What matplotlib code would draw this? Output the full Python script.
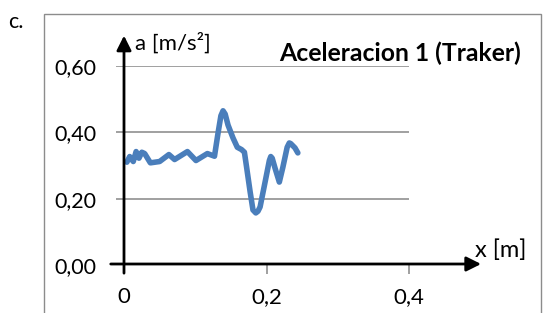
import matplotlib
matplotlib.use("Agg")
import matplotlib.pyplot as plt
from matplotlib.patches import Rectangle

plt.rcParams['font.family'] = ['Lato', 'DejaVu Sans']

# acceleration
x_m = [0.004, 0.008, 0.013, 0.017, 0.021, 0.025, 0.029, 0.037, 0.050, 0.063,
       0.071, 0.089, 0.101, 0.117, 0.127, 0.132, 0.136, 0.139, 0.142, 0.146,
       0.153, 0.159, 0.165, 0.169, 0.172, 0.177, 0.181, 0.185, 0.188, 0.191,
       0.198, 0.204, 0.206, 0.208, 0.212, 0.218, 0.223, 0.229, 0.232, 0.234,
       0.240, 0.244]
a_ms2 = [0.310, 0.327, 0.312, 0.342, 0.322, 0.340, 0.336, 0.308, 0.312, 0.333,
         0.318, 0.342, 0.315, 0.336, 0.328, 0.398, 0.450, 0.465, 0.455, 0.422,
         0.383, 0.355, 0.348, 0.340, 0.296, 0.221, 0.166, 0.157, 0.162, 0.175,
         0.250, 0.315, 0.327, 0.322, 0.292, 0.250, 0.295, 0.355, 0.368, 0.366,
         0.353, 0.338]

y_ticks = [0.0, 0.2, 0.4, 0.6]
y_labels = ["0,00", "0,20", "0,40", "0,60"]
x_ticks = [0.0, 0.2, 0.4]
x_labels = ["0", "0,2", "0,4"]

W, H = 543, 313
fig = plt.figure(figsize=(W / 100, H / 100), dpi=100)

# outer chart frame (cut at the bottom of the picture)
fig.patches.append(Rectangle((44 / W, -0.1), (541 - 44) / W, (313 - 14) / H + 0.1,
                             transform=fig.transFigure, fill=False,
                             edgecolor="#8c8c8c", lw=1.0))

ax = fig.add_axes([116 / W, (H - 265) / H, 293 / W, 199 / H])
ax.set_xlim(-8 / 712.5, 0.4)
ax.set_ylim(0, 0.6)
for s in ax.spines.values():
    s.set_visible(False)

ax.set_yticks(y_ticks)
ax.set_yticklabels(y_labels)
ax.set_xticks(x_ticks)
ax.set_xticklabels(x_labels)
ax.grid(axis="y", color="#868686", lw=1.1)
ax.tick_params(axis="y", length=0, pad=14, labelsize=15.5)
ax.tick_params(axis="x", length=6.5, width=1.1, color="#868686", pad=9.5, labelsize=16)
ax.axhline(0, color="#868686", lw=1.1)

ax.plot(x_m, a_ms2, color="#4a7ebb", lw=4, solid_joinstyle="round",
        solid_capstyle="round", clip_on=False)

# black arrow axes
ax.annotate("", xy=(0, 0.70), xytext=(0, -0.033),
            arrowprops=dict(arrowstyle="-|>", color="black", lw=2, mutation_scale=22),
            annotation_clip=False)
ax.annotate("", xy=(0.505, 0.003), xytext=(-0.0225, 0.003),
            arrowprops=dict(arrowstyle="-|>", color="black", lw=2, mutation_scale=22),
            annotation_clip=False)

ax.text(0.0154, 0.669, "a [m/s²]", fontsize=16, va="center", ha="left", clip_on=False)
ax.text(0.493, 0.045, "x [m]", fontsize=17, va="center", ha="left", clip_on=False)

fig.text(279 / W, 1 - 53 / H, "Aceleracion 1 (Traker)", fontsize=17.8,
         fontweight="bold", va="center", ha="left")
fig.text(8 / W, 1 - 22 / H, "c.", fontsize=15.5, va="center", ha="left")

fig.savefig("out.png", dpi=100)
